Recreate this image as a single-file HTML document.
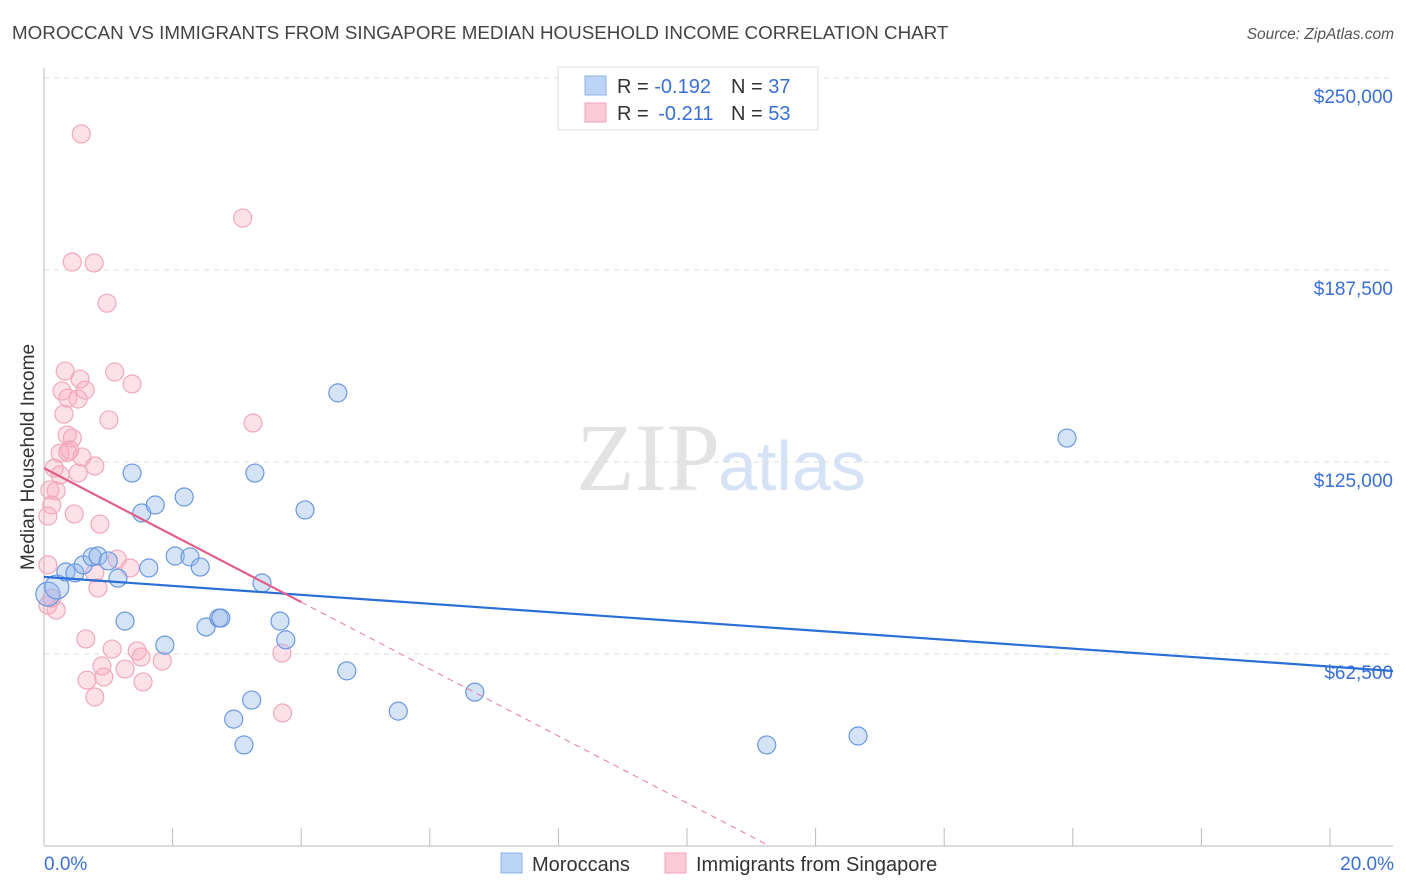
<!DOCTYPE html>
<html><head><meta charset="utf-8">
<style>
body{margin:0;background:#fff;font-family:"Liberation Sans",sans-serif;}
svg{display:block}
</style></head>
<body>
<svg id="chart" width="1406" height="892">
<text x="12" y="39" font-size="18.8" fill="#444">MOROCCAN VS IMMIGRANTS FROM SINGAPORE MEDIAN HOUSEHOLD INCOME CORRELATION CHART</text>
<text x="1394" y="39" font-size="15.5" fill="#555" font-style="italic" text-anchor="end">Source: ZipAtlas.com</text>
<text x="720" y="490" font-size="96" fill="#e3e3e3" text-anchor="end" font-family="Liberation Serif">ZIP</text>
<text x="718" y="490" font-size="70" fill="#d6e2f5">atlas</text>
<text transform="translate(34,457) rotate(-90)" font-size="19" fill="#333" text-anchor="middle">Median Household Income</text>
<g id="grid"></g>
<g id="marks"></g>
<g id="lines"></g>
<g>
<rect x="558" y="67" width="260" height="63" fill="#fff" stroke="#ddd"/>
<rect x="585" y="76" width="21" height="19" fill="#bcd4f5" stroke="#8fb2e8"/>
<rect x="585" y="103" width="21" height="19" fill="#fbcbd8" stroke="#f0a3b9"/>
<text x="617" y="93" font-size="20" fill="#333">R = <tspan fill="#3a6fd8">-0.192</tspan><tspan x="731">N = </tspan><tspan fill="#3a6fd8">37</tspan></text>
<text x="617" y="120" font-size="20" fill="#333">R = <tspan fill="#3a6fd8" dx="4">-0.211</tspan><tspan x="731">N = </tspan><tspan fill="#3a6fd8">53</tspan></text>
</g>
<g>
<rect x="501" y="853" width="21" height="20" fill="#bcd4f5" stroke="#8fb2e8"/>
<text x="532" y="871" font-size="20" fill="#333">Moroccans</text>
<rect x="665" y="853" width="21" height="20" fill="#fbcbd8" stroke="#f0a3b9"/>
<text x="696" y="871" font-size="20" fill="#333">Immigrants from Singapore</text>
</g>
</svg>
<script>
const yTicks=[62500,125000,187500,250000];
const yTickLabels=["$62,500","$125,000","$187,500","$250,000"];
const xTickLabels=["0.0%","20.0%"];
const blueX=[0.06,0.20,0.34,0.48,0.61,0.75,0.84,1.00,1.15,1.26,1.37,1.52,1.63,1.73,1.88,2.04,2.18,2.27,2.43,2.52,2.72,2.75,2.95,3.11,3.23,3.28,3.39,3.67,3.76,4.06,4.57,4.71,5.51,6.70,11.24,12.66,15.91];
const blueY=[82000,84300,89200,88900,91500,94100,94400,92800,87200,73200,121400,108400,90500,111000,65400,94400,113600,94100,90800,71300,74200,74200,41300,32900,47500,121400,85600,73200,67100,109400,147500,57000,43900,50100,32900,35800,132800];
const pinkX=[0.58,3.09,0.44,0.78,0.98,0.33,1.10,0.56,1.37,0.28,0.64,0.37,0.53,0.31,1.01,3.25,0.36,0.44,0.25,0.40,0.37,0.59,0.79,0.16,0.25,0.53,0.09,0.19,0.12,0.47,0.06,0.87,0.06,1.14,0.79,1.34,0.19,0.06,0.84,0.65,1.06,1.45,1.51,1.84,0.90,1.26,0.67,0.93,1.54,0.79,3.70,3.71,0.12];
const pinkY=[231800,204400,190100,189800,176700,154600,154300,152000,150400,148100,148400,145800,145500,140600,138700,137700,133800,132800,127900,128900,128200,126600,123700,123000,120800,121400,115900,115600,111000,108100,107400,104800,91500,93400,88900,90500,76800,78400,84000,67400,64100,63500,61500,60200,58600,57600,54000,55000,53400,48500,62800,43300,80700];
const blueTrend=[87600,-1460];
const pinkTrend=[123000,-10900];
const NS="http://www.w3.org/2000/svg";
const X0=44,X1=1330,Y0=846,YTOP=78;
function sx(v){return X0+(X1-X0)*v/20;}
function sy(v){return Y0-(Y0-YTOP)*v/250000;}
function mk(tag,attrs,parent){const e=document.createElementNS(NS,tag);for(const k in attrs)e.setAttribute(k,attrs[k]);parent.appendChild(e);return e;}
const grid=document.getElementById('grid'),marks=document.getElementById('marks'),lines=document.getElementById('lines');
yTicks.forEach((t,i)=>{
 const l=mk('line',{x1:44,x2:1393,y1:sy(t),y2:sy(t),stroke:'#ddd','stroke-dasharray':'5,5'},grid);
 
 
 const tx=mk('text',{x:1393,y:sy(t)+25,'font-size':19,fill:'#3a6fd8','text-anchor':'end'},grid);
 tx.textContent=yTickLabels[i];
 
 
});
const ax=mk('line',{x1:44,x2:1393,y1:Y0,y2:Y0,stroke:'#bbb'},grid);


const ay=mk('line',{x1:44,x2:44,y1:68,y2:Y0,stroke:'#bbb'},grid);


for(let i=0;i<=10;i++){
 const t=mk('line',{x1:sx(i*2),x2:sx(i*2),y1:Y0,y2:Y0-18,stroke:'#bbb'},grid);
 
 
}
[[0,'start',44],[20,'end',1394]].forEach((a,i)=>{
 const t=mk('text',{x:a[2],y:870,'font-size':19,fill:'#3a6fd8','text-anchor':a[1]},grid);
 t.textContent=xTickLabels[i];
 
 
});
pinkX.forEach((x,i)=>{
 const c=mk('circle',{cx:sx(x),cy:sy(pinkY[i]),r:9,fill:'rgba(248,170,192,0.35)',stroke:'#f2a8bc','stroke-width':1.2},marks);
 
 
});
blueX.forEach((x,i)=>{
 const c=mk('circle',{cx:sx(x),cy:sy(blueY[i]),r:i<2?12:9,fill:'rgba(150,185,235,0.4)',stroke:'#6a98e0','stroke-width':1.2},marks);
 
 
});
const bl=mk('line',{x1:sx(0),y1:sy(blueTrend[0]),x2:1393,y2:sy(blueTrend[0]+blueTrend[1]*(1393-X0)/(X1-X0)*20),stroke:'#2a6fd6','stroke-width':2.2},lines);


const pz=-pinkTrend[0]/pinkTrend[1];
const pd=mk('line',{x1:sx(4),y1:sy(pinkTrend[0]+pinkTrend[1]*4),x2:sx(pz),y2:sy(0),stroke:'#e87a9a','stroke-width':1,'stroke-dasharray':'6,5'},lines);


const ps=mk('line',{x1:sx(0),y1:sy(pinkTrend[0]),x2:sx(4),y2:sy(pinkTrend[0]+pinkTrend[1]*4),stroke:'#e0608a','stroke-width':2.2},lines);


</script>
</body></html>
